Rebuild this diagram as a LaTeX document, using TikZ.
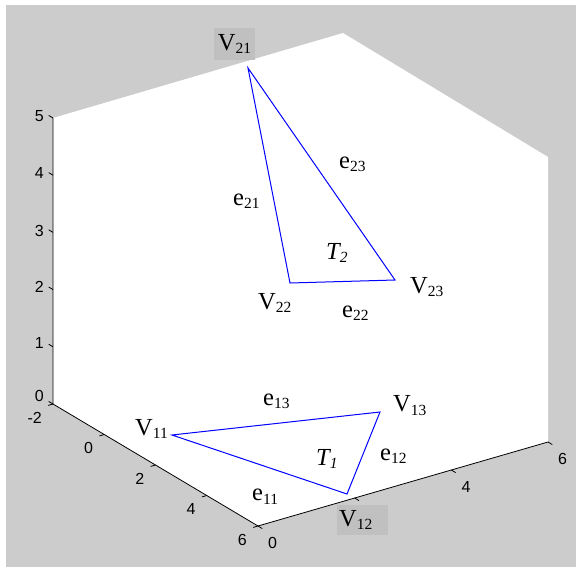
\documentclass[tikz,border=0pt]{standalone}
\usepackage{fontspec}
\setmainfont{Liberation Serif}
\newfontfamily\tickfont{Liberation Sans}
\usetikzlibrary{calc}
\definecolor{figgray}{RGB}{204,204,204}
\definecolor{boxgray}{RGB}{192,192,192}
\newcommand{\sidx}[1]{\raisebox{-3.5pt}{\fontsize{15.5}{17}\selectfont #1}}

\begin{document}
\begin{tikzpicture}[x=1pt,y=-1pt, font=\fontsize{24.5}{28}\selectfont,
  lbl/.style={inner sep=0pt,anchor=base west}, vbox/.style={fill=boxgray,inner sep=0pt},
  edge/.style={blue,line width=1pt}, ax/.style={line width=0.8pt},
  tk/.style={font=\tickfont\fontsize{16}{18}\selectfont,inner sep=0pt}]
  \useasboundingbox (0,0) rectangle (576,568);
  \fill[figgray] (6,5) rectangle (576,567);
  % axes box
  \fill[white] (53,118)--(343,33)--(548,157)--(548,442)--(258,526)--(53,404)--cycle;
  \coordinate (o) at (53,404); \coordinate (ox) at (258,526);
  \coordinate (oy) at (548,442); \coordinate (oz) at (53,118);
  \draw[ax] (oz)--(o)--(ox)--(oy);
  % ticks
  \foreach \z/\ly in {0/396,1/343,2/287,3/231,4/173,5/116}{
    \draw[ax] (53,404-57.2*\z)--++(-4.3,-2.6);
    \node[tk,anchor=east] at (44,\ly){\z};}
  \foreach \i/\t in {0/-2,1/0,2/2,3/4,4/6}{
    \draw[ax] ($(o)!\i/4!(ox)$)--++(-4.8,1.4);
    \node[tk,anchor=north east] at ($(o)!\i/4!(ox)+(-11,8)$){\t};}
  \foreach \i in {0,...,3} \draw[ax] ($(ox)!\i/3!(oy)$)--++(4.3,2.6);
  \foreach \i/\t in {0/0,2/4,3/6} \node[tk,anchor=north west] at ($(ox)!\i/3!(oy)+(10,11)$){\t};
  % triangles
  \coordinate (v11) at (172,435); \coordinate (v12) at (347,494); \coordinate (v13) at (380,412);
  \coordinate (v21) at (248,68); \coordinate (v22) at (290,283); \coordinate (v23) at (395,280);
  \draw[edge] (v11)--(v12)--(v13)--cycle;
  \draw[edge] (v21)--(v22)--(v23)--cycle;
  % labels
  \node[vbox,minimum width=41pt,minimum height=32pt] (l21) at (234.5,44) {V\sidx{21}};
  \node[vbox,anchor=west,inner xsep=2pt,text width=47pt,minimum height=30pt] (l12) at (337,520) {V\sidx{12}};
  \node[lbl] (l22) at (258,309) {V\sidx{22}};
  \node[lbl] (l23) at (410,293) {V\sidx{23}};
  \node[lbl] (l11) at (135,435) {V\sidx{11}};
  \node[lbl] (l13) at (393,411.5) {V\sidx{13}};
  \node[lbl] (e21) at (233,205) {e\sidx{21}};
  \node[lbl] (e23) at (339,168) {e\sidx{23}};
  \node[lbl] (e22) at (342,317) {e\sidx{22}};
  \node[lbl] (e13) at (263,405) {e\sidx{13}};
  \node[lbl] (e11) at (252,500.5) {e\sidx{11}};
  \node[lbl] (e12) at (380,460) {e\sidx{12}};
  \node[lbl] (t2) at (326,259) {\textit{T\sidx{2}}};
  \node[lbl] (t1) at (316,465) {\textit{T\sidx{1}}};
\end{tikzpicture}
\end{document}
